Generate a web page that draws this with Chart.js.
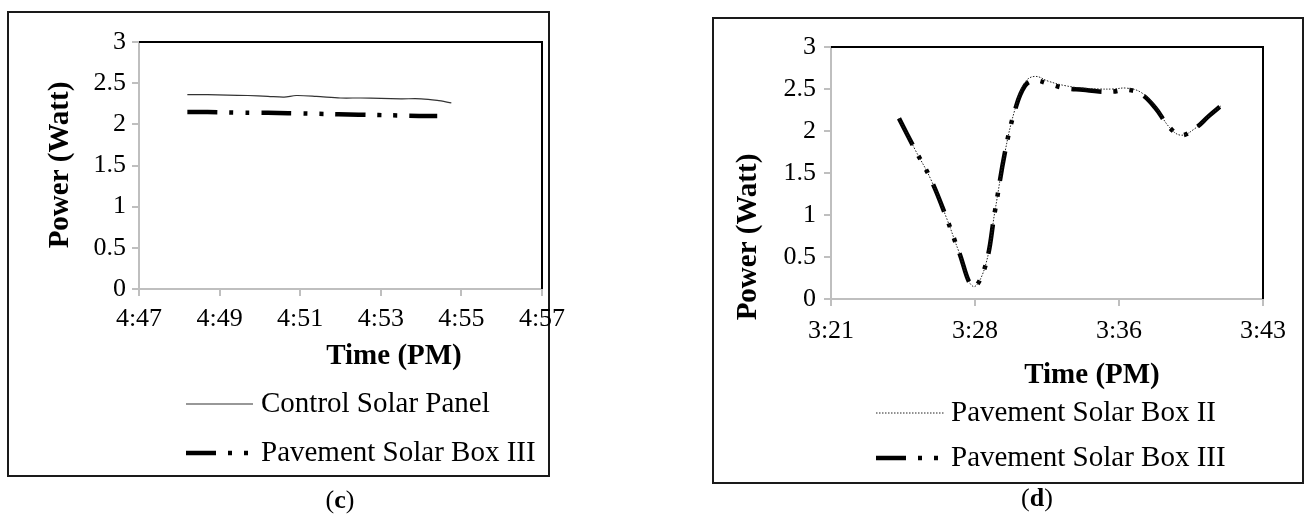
<!DOCTYPE html>
<html>
<head>
<meta charset="utf-8">
<title>Power vs time</title>
<script src="https://cdn.jsdelivr.net/npm/chart.js@4.4.1/dist/chart.umd.min.js"></script>
<style>
    html, body { margin: 0; padding: 0; background: #fff; }
    body { width: 1305px; height: 516px; position: relative; overflow: hidden; font-family: 'Liberation Serif', 'Times New Roman', serif; }
    .frame { position: absolute; border: 2px solid #1a1a1a; box-sizing: border-box; }
    #frameC { left: 7px; top: 11px; width: 543px; height: 466px; }
    #frameD { left: 712px; top: 17px; width: 592px; height: 467px; }
    canvas { position: absolute; top: 0; }
    #chartC { left: 0; }
    #chartD { left: 650px; }
    .caption { position: absolute; font-size: 26px; line-height: 26px; transform: translateX(-50%); color: #000; }
</style>
</head>
<body>
<div class="frame" id="frameC"></div>
<div class="frame" id="frameD"></div>
<canvas id="chartC" width="640" height="516"></canvas>
<canvas id="chartD" width="655" height="516"></canvas>
<div class="caption" style="left:340px; top:487px;">(<b>c</b>)</div>
<div class="caption" style="left:1037px; top:485px;">(<b>d</b>)</div>

<script>
// (c) minutes past 4:00 PM
const timeControlC = [48.2, 48.7, 49.2, 49.7, 50.2, 50.6, 50.9, 51.4, 52.0, 52.5, 53.0, 53.5, 54.0, 54.4, 54.75];
const powerControlC = [2.36, 2.36, 2.355, 2.35, 2.34, 2.33, 2.35, 2.34, 2.32, 2.32, 2.315, 2.31, 2.31, 2.29, 2.26];
const timeBox3C = [48.2, 48.7, 49.2, 49.7, 50.2, 50.7, 51.2, 51.7, 52.2, 52.7, 53.2, 53.7, 54.2, 54.4];
const powerBox3C = [2.15, 2.15, 2.145, 2.14, 2.14, 2.135, 2.13, 2.125, 2.12, 2.115, 2.11, 2.105, 2.10, 2.10];
const tickValuesC = [47, 49, 51, 53, 55, 57];
const tickLabelsC = ['4:47', '4:49', '4:51', '4:53', '4:55', '4:57'];

// (d) minutes past 3:00 PM
const timeD = [25.0, 25.8, 26.6, 27.4, 28.0, 28.7, 29.3, 29.8, 30.3, 30.8, 31.3, 31.8, 32.5, 33.3, 34.2, 35.0, 35.7, 36.4, 37.1, 37.8, 38.5, 39.1, 39.8, 40.5, 41.1];
const powerBox2D = [2.15, 1.78, 1.42, 0.95, 0.56, 0.15, 0.38, 1.05, 1.75, 2.26, 2.58, 2.65, 2.59, 2.54, 2.51, 2.50, 2.50, 2.51, 2.46, 2.30, 2.05, 1.95, 2.03, 2.18, 2.30];
const powerBox3D = [2.15, 1.78, 1.42, 0.95, 0.56, 0.15, 0.38, 1.05, 1.75, 2.25, 2.54, 2.60, 2.56, 2.51, 2.49, 2.47, 2.47, 2.49, 2.44, 2.28, 2.05, 1.95, 2.03, 2.18, 2.30];
const tickValuesD = [21.6, 28.8, 36, 43.2];
const tickLabelsD = ['3:21', '3:28', '3:36', '3:43'];

const powerTicks = [0, 0.5, 1, 1.5, 2, 2.5, 3];

const FONT = 'Liberation Serif';
const AXIS_GREY = '#bfbfbf';

function toPoints(xs, ys) {
    return xs.map((x, i) => ({ x: x, y: ys[i] }));
}

// draws the Excel-style plot border, axis titles and the legend
const excelFrame = {
    id: 'excelFrame',
    beforeDatasetsDraw(chart) {
        const ctx = chart.ctx;
        const a = chart.chartArea;
        ctx.save();
        ctx.strokeStyle = '#000';
        ctx.lineWidth = 2;
        ctx.beginPath();
        ctx.moveTo(a.left, a.top);
        ctx.lineTo(a.right, a.top);
        ctx.lineTo(a.right, a.bottom);
        ctx.stroke();
        ctx.restore();
    },
    afterDraw(chart, args, opts) {
        const ctx = chart.ctx;
        ctx.save();
        ctx.fillStyle = '#000';
        ctx.textBaseline = 'middle';
        ctx.textAlign = 'center';
        ctx.font = 'bold 29px "' + FONT + '"';
        ctx.fillText(opts.xTitle, opts.xTitleAt[0], opts.xTitleAt[1]);

        ctx.save();
        ctx.translate(opts.yTitleAt[0], opts.yTitleAt[1]);
        ctx.rotate(-Math.PI / 2);
        ctx.fillText(opts.yTitle, 0, 0);
        ctx.restore();

        ctx.font = '29px "' + FONT + '"';
        ctx.textAlign = 'left';
        chart.data.datasets.forEach(function (ds, i) {
            const y = opts.legendRows[i];
            ctx.save();
            ctx.strokeStyle = ds.borderColor;
            ctx.lineWidth = ds.borderWidth;
            ctx.setLineDash(ds.borderDash || []);
            ctx.beginPath();
            ctx.moveTo(opts.legendLine[0], y);
            ctx.lineTo(opts.legendLine[1], y);
            ctx.stroke();
            ctx.restore();
            ctx.fillText(ds.label, opts.legendText, y);
        });
        ctx.restore();
    }
};

function makeChart(id, datasets, xRange, xTicks, xLabels, pad, tickPad, frame) {
    return new Chart(document.getElementById(id), {
        type: 'line',
        data: { datasets: datasets },
        plugins: [excelFrame],
        options: {
            responsive: false,
            animation: false,
            layout: { padding: pad },
            plugins: {
                legend: { display: false },
                tooltip: { enabled: false },
                excelFrame: frame
            },
            elements: { point: { radius: 0 } },
            scales: {
                x: {
                    type: 'linear',
                    min: xRange[0],
                    max: xRange[1],
                    afterBuildTicks: function (s) { s.ticks = xTicks.map(v => ({ value: v })); },
                    afterFit: function (s) { s.height = 100; s.paddingLeft = 0; s.paddingRight = 0; },
                    ticks: {
                        autoSkip: false,
                        maxRotation: 0,
                        padding: tickPad[0],
                        color: '#000',
                        font: { family: FONT, size: 26 },
                        callback: (v, i) => xLabels[i]
                    },
                    grid: { drawOnChartArea: false, drawTicks: true, tickLength: 7, color: AXIS_GREY, lineWidth: 2 },
                    border: { color: AXIS_GREY, width: 2 }
                },
                y: {
                    min: 0,
                    max: 3,
                    afterBuildTicks: function (s) { s.ticks = powerTicks.map(v => ({ value: v })); },
                    afterFit: function (s) { s.width = 100; s.paddingTop = 0; s.paddingBottom = 0; },
                    ticks: {
                        padding: tickPad[1],
                        color: '#000',
                        font: { family: FONT, size: 26 },
                        callback: v => String(v)
                    },
                    grid: { drawOnChartArea: false, drawTicks: true, tickLength: 7, color: AXIS_GREY, lineWidth: 2 },
                    border: { color: AXIS_GREY, width: 2 }
                }
            }
        }
    });
}

const dashDotDot = [30, 12, 4, 12, 4, 12];

makeChart('chartC', [
    {
        label: 'Control Solar Panel',
        data: toPoints(timeControlC, powerControlC),
        borderColor: '#333',
        borderWidth: 1.2,
        tension: 0.3,
        fill: false
    },
    {
        label: 'Pavement Solar Box III',
        data: toPoints(timeBox3C, powerBox3C),
        borderColor: '#000',
        borderWidth: 4.5,
        borderDash: dashDotDot,
        borderCapStyle: 'butt',
        tension: 0.3,
        fill: false
    }
], [47, 57], tickValuesC, tickLabelsC,
   { left: 39, top: 42, right: 98, bottom: 127 }, [8, 6],
   {
       xTitle: 'Time (PM)', xTitleAt: [394, 357],
       yTitle: 'Power (Watt)', yTitleAt: [61, 165],
       legendLine: [186, 253], legendText: 261, legendRows: [404, 453]
   });

makeChart('chartD', [
    {
        label: 'Pavement Solar Box II',
        data: toPoints(timeD, powerBox2D),
        borderColor: '#222',
        borderWidth: 1,
        borderDash: [1.5, 1.5],
        tension: 0.4,
        fill: false
    },
    {
        label: 'Pavement Solar Box III',
        data: toPoints(timeD, powerBox3D),
        borderColor: '#000',
        borderWidth: 4.5,
        borderDash: dashDotDot,
        borderCapStyle: 'butt',
        tension: 0.4,
        fill: false
    }
], [21.6, 43.2], tickValuesD, tickLabelsD,
   { left: 81, top: 47, right: 42, bottom: 117 }, [10, 8],
   {
       xTitle: 'Time (PM)', xTitleAt: [442, 376],
       yTitle: 'Power (Watt)', yTitleAt: [99, 237],
       legendLine: [226, 294], legendText: 301, legendRows: [413, 458]
   });
</script>
</body>
</html>
